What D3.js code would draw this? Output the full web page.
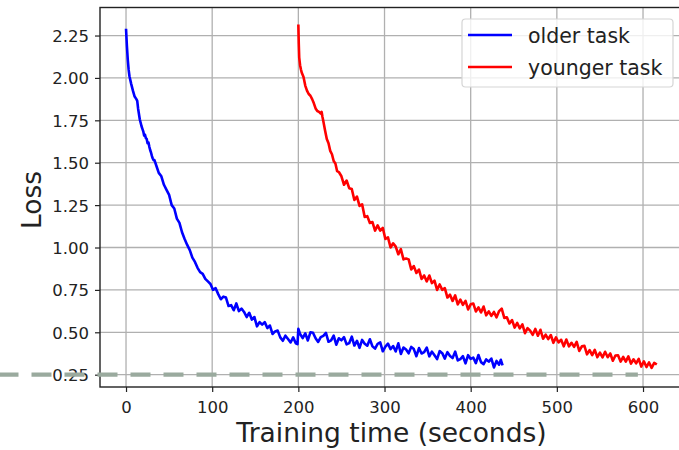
<!DOCTYPE html>
<html lang="en">
<head>
  <meta charset="utf-8">
  <title>Loss vs training time</title>
  <style>
    body { margin: 0; background: #fff; }
    svg { display: block; font-family: "DejaVu Sans", sans-serif; }
    .tick-label { font-size: 16.5px; fill: #222; }
    .grid line { stroke: #b0b0b0; stroke-width: 1.3; }
  </style>
</head>
<body>
<div id="chart"></div>
<script src="https://d3js.org/d3.v7.min.js"></script>
<script>
  // [seconds, loss]
  const olderTask = [
    [0,2.29],[1,2.19],[2,2.11],[3,2.05],[4,2.01],[6,1.965],[8,1.925],[10,1.89],[12,1.875],[13,1.865],
    [14,1.82],[16,1.755],[18,1.715],[19,1.70],[20,1.685],[21,1.66],[22,1.665],[23,1.645],[24,1.64],[25,1.615],
    [26,1.62],[27,1.595],[28,1.575],[29,1.56],[30,1.54],[31,1.525],[32,1.515],[33,1.515],[35,1.485],[38,1.44],
    [41,1.42],[44,1.37],[47,1.34],[50,1.31],[53,1.25],[56,1.23],[59,1.17],[62,1.145],[65,1.09],[68,1.05],
    [71,1.015],[74,0.985],[77,0.94],[80,0.915],[83,0.88],[86,0.855],[89,0.845],[92,0.815],[95,0.80],[98,0.785],
    [101,0.75],[104,0.76],[107,0.725],[110,0.695],[113,0.71],[116,0.705],[119,0.655],[122,0.66],[125,0.63],[128,0.67],
    [131,0.625],[134,0.64],[137,0.62],[140,0.59],[143,0.615],[146,0.575],[149,0.59],[152,0.535],[155,0.56],[158,0.545],
    [161,0.56],[164,0.525],[167,0.54],[170,0.49],[173,0.505],[176,0.51],[179,0.47],[182,0.45],[185,0.48],[188,0.46],
    [191,0.44],[194,0.47],[197,0.435],[199,0.43],[200,0.52],[202,0.49],[205,0.466],[208,0.494],[211,0.452],[214,0.50],
    [217,0.497],[220,0.465],[223,0.443],[226,0.471],[229,0.479],[232,0.496],[235,0.444],[238,0.452],[241,0.48],[244,0.427],
    [247,0.465],[250,0.453],[253,0.471],[256,0.429],[259,0.436],[262,0.474],[265,0.422],[268,0.45],[271,0.408],[274,0.455],
    [277,0.433],[280,0.421],[283,0.459],[286,0.417],[289,0.404],[292,0.432],[295,0.44],[298,0.388],[301,0.416],[304,0.433],
    [307,0.401],[310,0.419],[313,0.387],[316,0.435],[319,0.372],[322,0.41],[325,0.398],[328,0.376],[331,0.414],[334,0.401],
    [337,0.359],[340,0.407],[343,0.375],[346,0.383],[349,0.41],[352,0.358],[355,0.386],[358,0.364],[361,0.342],[364,0.389],
    [367,0.377],[370,0.345],[373,0.383],[376,0.36],[379,0.348],[382,0.386],[385,0.334],[388,0.342],[391,0.359],[394,0.317],
    [397,0.365],[400,0.343],[403,0.351],[406,0.318],[409,0.366],[412,0.324],[415,0.312],[418,0.34],[421,0.327],[424,0.345],
    [427,0.293],[430,0.331],[433,0.309],[435,0.338],[437,0.305]
  ];

  const youngerTask = [
    [200,2.315],[200.5,2.20],[201,2.12],[202,2.075],[203,2.05],[204,2.03],[206,2.005],[208,1.955],[210,1.925],[212,1.905],
    [214,1.895],[216,1.875],[218,1.85],[220,1.82],[222,1.805],[224,1.80],[226,1.79],[227,1.80],[228,1.77],[229,1.745],
    [231,1.69],[233,1.64],[235,1.615],[237,1.57],[239,1.55],[241,1.51],[243,1.495],[245,1.45],[247,1.445],[250,1.42],
    [253,1.37],[256,1.395],[259,1.35],[262,1.345],[265,1.28],[268,1.30],[271,1.245],[274,1.255],[277,1.18],[280,1.185],
    [283,1.145],[286,1.15],[289,1.10],[292,1.13],[295,1.10],[298,1.115],[301,1.05],[304,1.06],[307,1.00],[310,1.025],
    [313,1.005],[316,0.96],[319,0.99],[322,0.93],[325,0.935],[328,0.93],[331,0.87],[334,0.89],[337,0.85],[340,0.87],
    [343,0.815],[346,0.835],[349,0.80],[352,0.835],[355,0.79],[358,0.805],[361,0.75],[364,0.782],[367,0.75],[370,0.76],
    [373,0.705],[376,0.722],[379,0.685],[382,0.718],[385,0.665],[388,0.693],[391,0.662],[394,0.685],[397,0.635],[400,0.665],
    [403,0.67],[406,0.623],[409,0.647],[412,0.617],[415,0.652],[418,0.60],[421,0.623],[424,0.597],[427,0.62],[430,0.588],
    [433,0.625],[436,0.64],[439,0.585],[442,0.588],[445,0.552],[448,0.572],[451,0.528],[454,0.555],[457,0.523],[460,0.547],
    [463,0.495],[466,0.525],[469,0.51],[472,0.485],[475,0.52],[478,0.48],[481,0.515],[484,0.462],[487,0.486],[490,0.46],
    [493,0.484],[496,0.438],[499,0.47],[502,0.44],[505,0.456],[508,0.417],[511,0.457],[514,0.417],[517,0.438],[520,0.414],
    [523,0.443],[526,0.39],[529,0.417],[532,0.42],[535,0.37],[538,0.395],[541,0.365],[544,0.396],[547,0.353],[550,0.38],
    [553,0.352],[556,0.385],[559,0.353],[562,0.375],[565,0.332],[568,0.363],[571,0.365],[574,0.327],[577,0.355],[580,0.327],
    [583,0.358],[586,0.315],[589,0.341],[592,0.317],[595,0.343],[598,0.298],[601,0.329],[604,0.295],[607,0.322],[610,0.29],
    [613,0.32],[616,0.31]
  ];

  const xTicks = [0, 100, 200, 300, 400, 500, 600];
  const yTicks = [0.25, 0.50, 0.75, 1.00, 1.25, 1.50, 1.75, 2.00, 2.25];
  const targetLoss = 0.25;
  const targetSpan = [-148, 594];
  const seriesNames = ["older task", "younger task"];
  const seriesColors = ["#0000ff", "#ff0000"];

  const width = 679, height = 450;
  const plotLeft = 100, plotTop = 7.5, plotBottom = 387, plotRight = 683;

  const svg = d3.select("#chart").append("svg")
    .attr("width", width)
    .attr("height", height);

  const x = d3.scaleLinear().domain([-30.2, 646.4]).range([plotLeft, plotRight]);
  const y = d3.scaleLinear().domain([0.1774, 2.4153]).range([plotBottom, plotTop]);

  // grid
  const grid = svg.append("g").attr("class", "grid");
  grid.selectAll(".gx").data(xTicks).join("line")
    .attr("x1", d => x(d)).attr("x2", d => x(d))
    .attr("y1", plotTop).attr("y2", plotBottom);
  grid.selectAll(".gy").data(yTicks).join("line")
    .attr("x1", plotLeft).attr("x2", plotRight)
    .attr("y1", d => y(d)).attr("y2", d => y(d));

  // curves
  const line = d3.line().x(d => x(d[0])).y(d => y(d[1]));
  [olderTask, youngerTask].forEach((s, i) => {
    svg.append("path")
      .datum(s)
      .attr("d", line)
      .attr("fill", "none")
      .attr("stroke", seriesColors[i])
      .attr("stroke-width", 2.6)
      .attr("stroke-linejoin", "round");
  });

  // axes
  const xAxis = d3.axisBottom(x).tickValues(xTicks).tickSize(5).tickPadding(5).tickFormat(d3.format("d"));
  const yAxis = d3.axisLeft(y).tickValues(yTicks).tickSize(5).tickPadding(6).tickFormat(d3.format(".2f"));

  const gx = svg.append("g").attr("transform", `translate(0,${plotBottom})`).call(xAxis);
  const gy = svg.append("g").attr("transform", `translate(${plotLeft},0)`).call(yAxis);
  [gx, gy].forEach(g => {
    g.select(".domain").remove();
    g.selectAll("line").attr("stroke", "#222").attr("stroke-width", 1.2);
    g.selectAll("text").attr("class", "tick-label").attr("fill", "#222")
      .style("font-family", "DejaVu Sans").style("font-size", "16.5px");
  });
  gx.selectAll("text").attr("dy", null).attr("y", 26);
  gy.selectAll("text").attr("dy", "0.36em");

  // spines (right one falls outside the picture)
  svg.append("rect")
    .attr("x", plotLeft).attr("y", plotTop)
    .attr("width", plotRight - plotLeft).attr("height", plotBottom - plotTop)
    .attr("fill", "none").attr("stroke", "#222").attr("stroke-width", 1.4);

  // labels
  svg.append("text")
    .attr("x", (plotLeft + plotRight) / 2).attr("y", 442)
    .attr("text-anchor", "middle")
    .attr("fill", "#222")
    .style("font-size", "26.5px")
    .text("Training time (seconds)");

  svg.append("text")
    .attr("transform", "translate(41,200) rotate(-90)")
    .attr("text-anchor", "middle")
    .attr("fill", "#222")
    .style("font-size", "26.5px")
    .text("Loss");

  // dashed target line, drawn over tick labels
  svg.append("line")
    .attr("x1", x(targetSpan[0])).attr("x2", x(targetSpan[1]))
    .attr("y1", y(targetLoss)).attr("y2", y(targetLoss))
    .attr("stroke", "#9aaa9e")
    .attr("stroke-width", 4.2)
    .attr("stroke-dasharray", "20,13");

  // legend
  const legend = svg.append("g");
  legend.append("rect")
    .attr("x", 462).attr("y", 19).attr("width", 211).attr("height", 68)
    .attr("rx", 3.5)
    .attr("fill", "#fff").attr("fill-opacity", 0.8)
    .attr("stroke", "#d5d5d5").attr("stroke-width", 1.2);
  seriesNames.forEach((name, i) => {
    const ly = 35 + i * 32;
    legend.append("line")
      .attr("x1", 468).attr("x2", 512)
      .attr("y1", ly).attr("y2", ly)
      .attr("stroke", seriesColors[i]).attr("stroke-width", 2.6);
    legend.append("text")
      .attr("x", 528).attr("y", ly + 7.5)
      .attr("fill", "#222")
      .style("font-size", "20.5px")
      .text(name);
  });
</script>
</body>
</html>
